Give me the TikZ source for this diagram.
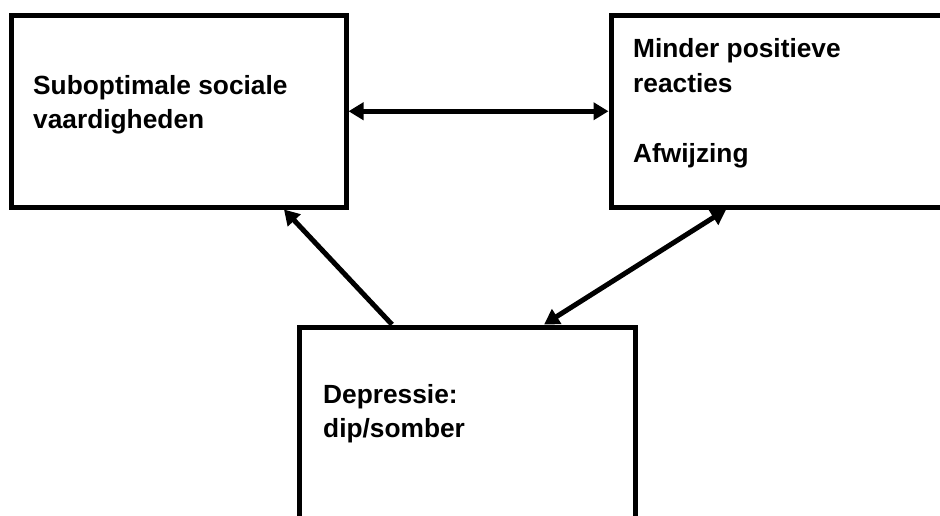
\documentclass[tikz,border=0pt]{standalone}
\usepackage{fontspec}
\setmainfont{Liberation Sans}
\usetikzlibrary{arrows.meta,calc}

\begin{document}
\begin{tikzpicture}[x=1pt,y=-1pt,
    box/.style={draw,line width=5pt,minimum width=#1,minimum height=191.5pt,inner sep=0pt},
    boxtext/.style={anchor=base west,align=left,inner sep=0pt,font=\fontsize{26.3}{34.5}\selectfont\bfseries},
    oneway/.style={line width=5pt,-{Triangle[length=15pt,width=17pt]}},
    twoway/.style={line width=5pt,{Triangle[length=15pt,width=17pt]}-{Triangle[length=15pt,width=17pt]}}
  ]
  \useasboundingbox (0,0) rectangle (940,516);
  \clip (0,0) rectangle (940,516);

  \path
  (178.75,111.25) node[box=334.5pt](skills) {}
  (778.5,111.25) node[box=335pt](reject) {}
  (467,422.75) node[box=336pt](depr) {}
  ;
  \path
  (33,128.5) node[boxtext](skillstext) {Suboptimale sociale\\vaardigheden}
  (633,163) node[boxtext](rejecttext) {Minder positieve\\reacties\\[36pt]Afwijzing}
  (323,437.5) node[boxtext](deprtext) {Depressie:\\dip/somber}
  ;

  \draw[twoway] (skills.east) -- (reject.west);
  \draw[oneway] ($(depr.north west)!0.28!(depr.north east)$) -- ($(skills.south west)!0.81!(skills.south east)$);
  \draw[twoway] ($(reject.south west)!0.346!(reject.south east)$) -- ($(depr.north west)!0.726!(depr.north east)$);
\end{tikzpicture}
\end{document}
